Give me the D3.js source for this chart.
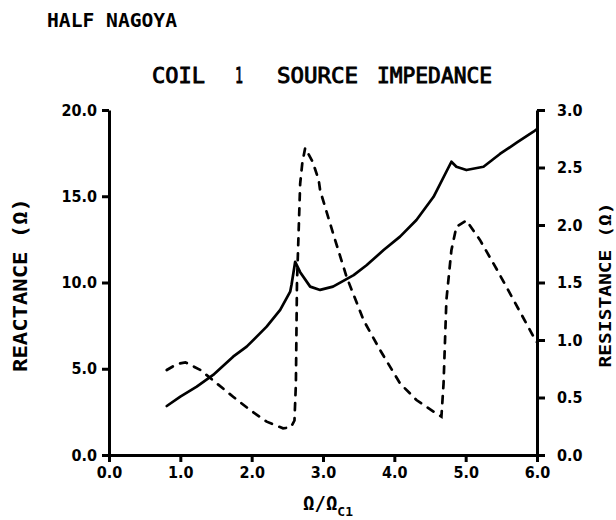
<!DOCTYPE html>
<html>
<head>
<meta charset="utf-8">
<script src="https://cdn.jsdelivr.net/npm/d3@7"></script>
<style>
  html, body { margin: 0; padding: 0; background: #fff; }
  svg { display: block; }
  .tick text { font-family: "DejaVu Sans Condensed", "DejaVu Sans", sans-serif; font-stretch: condensed; font-weight: bold; font-size: 16px; fill: #000; }
  .axis path, .axis line { stroke: #000; stroke-width: 3; }
</style>
</head>
<body>
<svg id="chart" width="616" height="520"></svg>
<script>
// Normalised frequency and source reactance (ohms), solid curve
const reactanceFreq = [0.81, 1.00, 1.23, 1.46, 1.74, 1.93, 2.21, 2.40, 2.54, 2.56, 2.61, 2.68, 2.82, 2.96, 3.14, 3.43, 3.61, 3.85, 4.08, 4.31, 4.55, 4.80, 4.87, 5.01, 5.25, 5.48, 5.72, 5.95, 6.00];
const reactance     = [2.84, 3.38, 3.96, 4.64, 5.70, 6.28, 7.44, 8.41, 9.47, 9.90, 11.2, 10.6, 9.76, 9.57, 9.76, 10.43, 11.0, 11.88, 12.66, 13.62, 14.97, 17.0, 16.71, 16.52, 16.71, 17.45, 18.12, 18.74, 18.9];

// Normalised frequency and source resistance (ohms), dashed curve
const resistanceFreq = [0.81, 0.95, 1.07, 1.28, 1.51, 1.74, 1.98, 2.21, 2.44, 2.55, 2.60, 2.62, 2.635, 2.68, 2.71, 2.75, 2.855, 2.94, 2.96, 3.14, 3.33, 3.57, 3.80, 4.08, 4.31, 4.55, 4.66, 4.69, 4.73, 4.80, 4.87, 5.01, 5.20, 5.44, 5.67, 5.95, 6.00];
const resistance     = [0.739, 0.79, 0.806, 0.74, 0.623, 0.507, 0.39, 0.29, 0.232, 0.24, 0.30, 0.62, 1.49, 2.36, 2.54, 2.67, 2.55, 2.39, 2.30, 1.93, 1.55, 1.17, 0.913, 0.623, 0.478, 0.377, 0.333, 0.62, 1.35, 1.78, 1.985, 2.04, 1.87, 1.61, 1.35, 1.03, 0.98];

// Tick values
const freqTicks = [0, 1, 2, 3, 4, 5, 6];
const reactanceTicks = [0, 5, 10, 15, 20];
const resistanceTicks = [0, 0.5, 1.0, 1.5, 2.0, 2.5, 3.0];

const svg = d3.select("#chart");
const plotLeft = 109, plotRight = 537, plotTop = 110, plotBottom = 455;

const x = d3.scaleLinear().domain([0, 6]).range([plotLeft, plotRight]);
const yL = d3.scaleLinear().domain([0, 20]).range([plotBottom, plotTop]);
const yR = d3.scaleLinear().domain([0, 3]).range([plotBottom, plotTop]);
const fmt = d3.format(".1f");

// Axes
svg.append("g").attr("class", "axis")
  .attr("transform", `translate(0,${plotBottom})`)
  .call(d3.axisBottom(x).tickValues(freqTicks).tickFormat(fmt).tickSizeInner(7).tickSizeOuter(0).tickPadding(5));

svg.append("g").attr("class", "axis")
  .attr("transform", `translate(${plotLeft},0)`)
  .call(d3.axisLeft(yL).tickValues(reactanceTicks).tickFormat(fmt).tickSizeInner(7).tickSizeOuter(0).tickPadding(5));

svg.append("g").attr("class", "axis")
  .attr("transform", `translate(${plotRight},0)`)
  .call(d3.axisRight(yR).tickValues(resistanceTicks).tickFormat(fmt).tickSizeInner(8).tickSizeOuter(0).tickPadding(12));

// Curves
const lineL = d3.line().x((d, i) => x(reactanceFreq[i])).y(d => yL(d));
const lineR = d3.line().x((d, i) => x(resistanceFreq[i])).y(d => yR(d));

svg.append("path").datum(reactance)
  .attr("d", lineL).attr("fill", "none").attr("stroke", "#000")
  .attr("stroke-width", 2.7).attr("stroke-linejoin", "round").attr("stroke-linecap", "round");

svg.append("path").datum(resistance)
  .attr("d", lineR).attr("fill", "none").attr("stroke", "#000")
  .attr("stroke-width", 2.7).attr("stroke-dasharray", "7,8").attr("stroke-linecap", "round");

// Titles
const mono = '"DejaVu Sans Mono", monospace';
svg.append("text").attr("x", 47).attr("y", 27)
  .attr("font-family", mono).attr("font-weight", "bold").attr("font-size", 19)
  .attr("textLength", 130).attr("lengthAdjust", "spacingAndGlyphs").text("HALF NAGOYA");

const titleParts = [
  { t: "COIL", x: 152, w: 53 },
  { t: "1", x: 235, w: 8 },
  { t: "SOURCE", x: 277, w: 81 },
  { t: "IMPEDANCE", x: 377, w: 115 }
];
svg.selectAll("text.title").data(titleParts).enter().append("text")
  .attr("class", "title")
  .attr("x", d => d.x).attr("y", 83)
  .attr("font-family", mono).attr("font-size", 22)
  .attr("stroke", "#000").attr("stroke-width", 0.9)
  .attr("textLength", d => d.w).attr("lengthAdjust", "spacingAndGlyphs")
  .text(d => d.t);

// Axis titles
svg.append("text")
  .attr("transform", "translate(27,285) rotate(-90)")
  .attr("text-anchor", "middle")
  .attr("font-family", mono).attr("font-weight", "bold").attr("font-size", 19)
  .attr("textLength", 174).attr("lengthAdjust", "spacingAndGlyphs")
  .text("REACTANCE (Ω)");

svg.append("text")
  .attr("transform", "translate(611,285) rotate(-90)")
  .attr("text-anchor", "middle")
  .attr("font-family", mono).attr("font-weight", "bold").attr("font-size", 16)
  .attr("textLength", 165).attr("lengthAdjust", "spacingAndGlyphs")
  .text("RESISTANCE (Ω)");

const xt = svg.append("text")
  .attr("x", 303).attr("y", 510)
  .attr("font-family", mono).attr("font-weight", "bold").attr("font-size", 19);
xt.append("tspan").text("Ω/Ω");
xt.append("tspan").attr("dy", 6).attr("font-size", 13).text("C1");
</script>
</body>
</html>
